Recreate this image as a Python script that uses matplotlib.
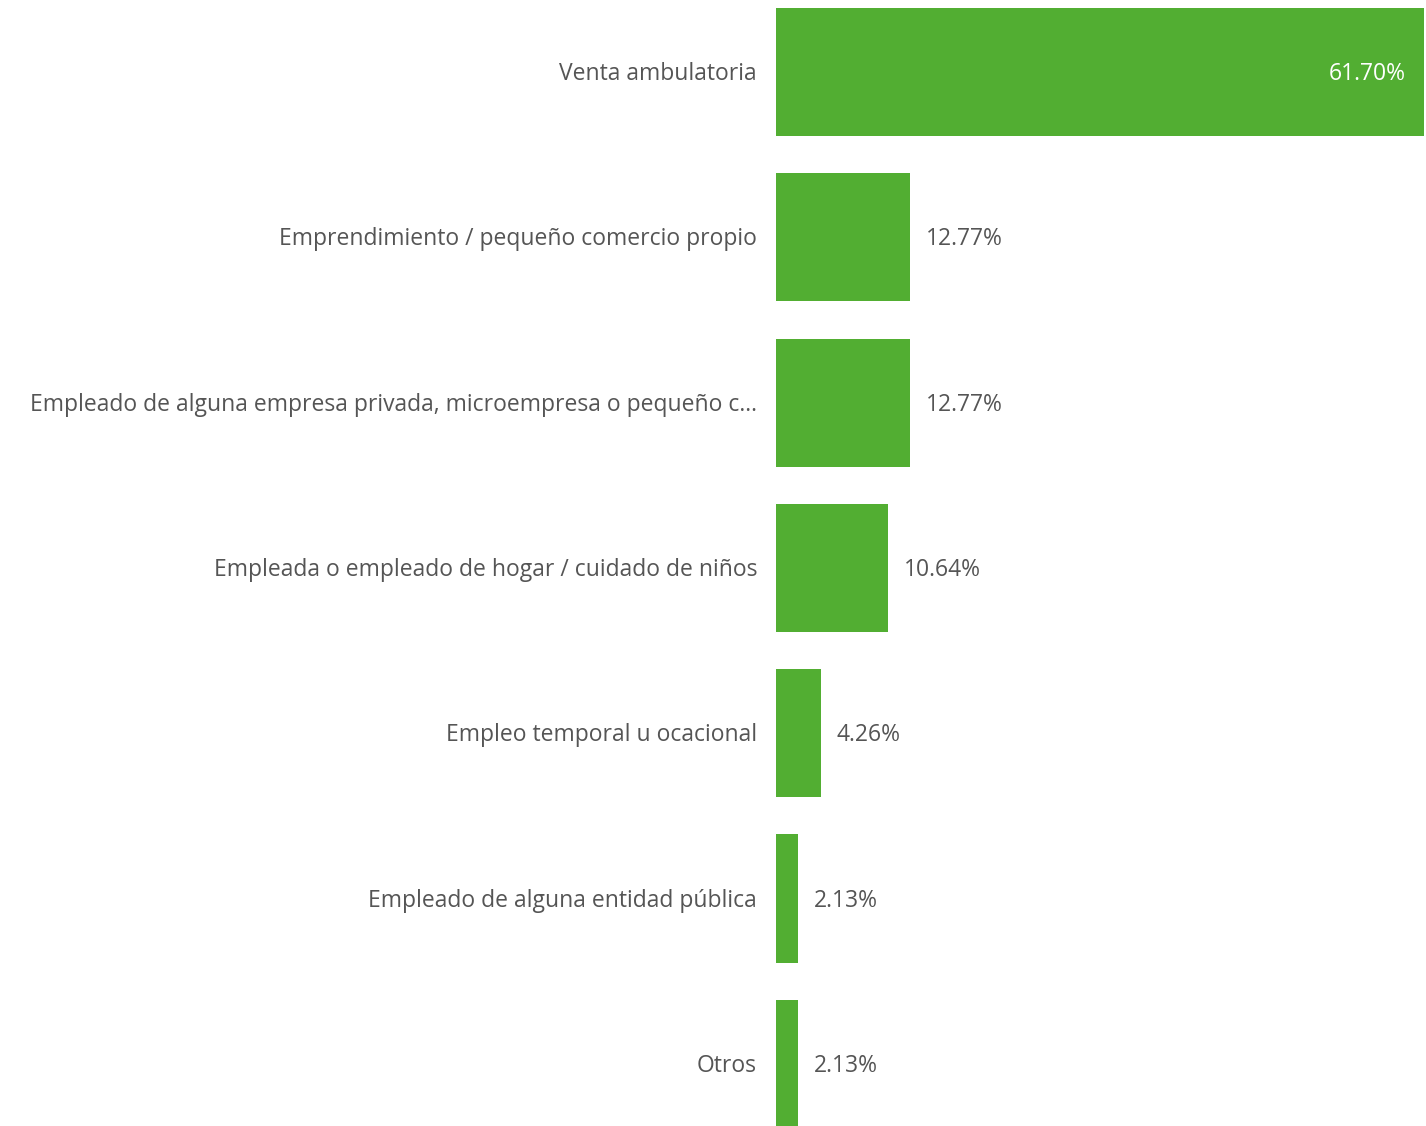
import matplotlib.pyplot as plt

# Categorias y porcentajes
categories = ['Venta ambulatoria',
              'Emprendimiento / pequeño comercio propio',
              'Empleado de alguna empresa privada, microempresa o pequeño c...',
              'Empleada o empleado de hogar / cuidado de niños',
              'Empleo temporal u ocacional',
              'Empleado de alguna entidad pública',
              'Otros']
values = [61.70, 12.77, 12.77, 10.64, 4.26, 2.13, 2.13]

green = '#52ae32'
gray = '#555555'
plt.rcParams['font.family'] = ['Open Sans', 'DejaVu Sans']

fig = plt.figure(figsize=(14.26, 11.26), dpi=100)
ax = fig.add_axes([776 / 1426, 0, 650 / 1426, 1])

pos = list(range(len(values)))
ax.barh(pos, values, height=0.775, color=green)

ax.set_ylim(1126 / 165.3 - 72 / 165.3, -72 / 165.3)
ax.set_xlim(0, 61.70 * 650 / 648)

# etiquetas de categoria a la izquierda
for p, c in zip(pos, categories):
    ax.annotate(c, xy=(0, p), xytext=(-19, -2), textcoords='offset pixels',
                ha='right', va='center', fontsize=16.5, color=gray)

# etiquetas de valor
for p, v in zip(pos, values):
    txt = f'{v:.2f}%'
    if v > 50:
        ax.annotate(txt, xy=(v, p), xytext=(-18, -2), textcoords='offset pixels',
                    ha='right', va='center', fontsize=16.5, color='white')
    else:
        ax.annotate(txt, xy=(v, p), xytext=(16, -2), textcoords='offset pixels',
                    ha='left', va='center', fontsize=16.5, color=gray)

ax.axis('off')

fig.savefig('out.png', dpi=100)
